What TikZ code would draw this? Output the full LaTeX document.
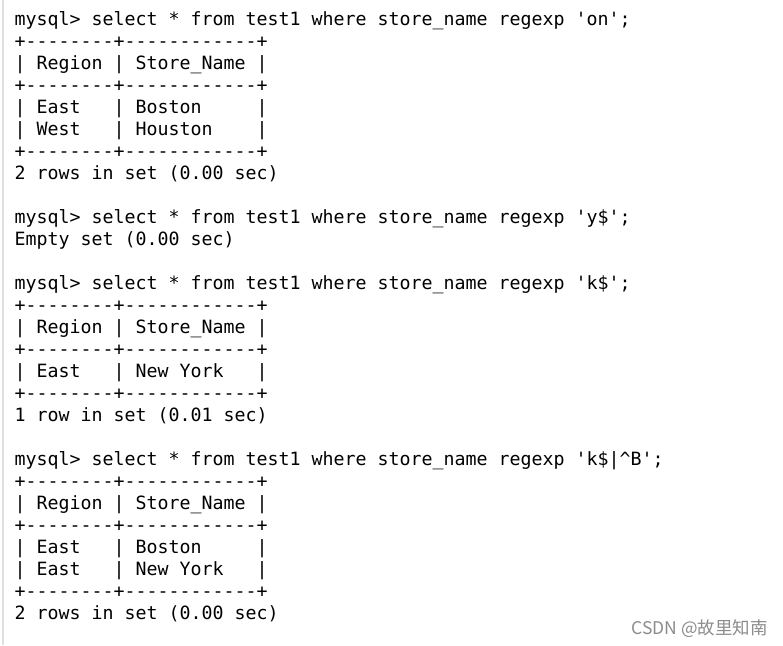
\documentclass[tikz,border=0pt]{standalone}
\usepackage{fontspec}
\setmonofont{DejaVu Sans Mono}
\newfontfamily\cjkfont{Noto Sans CJK SC}
\begin{document}
\begin{tikzpicture}[x=1pt,y=-1pt,
  term/.style={anchor=base west,inner sep=0pt,font=\ttfamily\fontsize{18.27}{22}\selectfont,text=black},
  wmark/.style={anchor=base east,inner sep=0pt,font=\cjkfont\fontsize{17.5}{20}\selectfont,text=black!45}]
\useasboundingbox[fill=white] (0,0) rectangle (783,645);
\fill[black!12] (2,0) rectangle (4,645);
\newcommand{\tl}[2]{\node[term] (l#1) at (14.5,{25+22*(#1-1)}) {#2};}
\tl{1}{mysql> select * from test1 where store\_name regexp 'on';}
\tl{2}{+--------+------------+}
\tl{3}{|~Region~|~Store\_Name~|}
\tl{4}{+--------+------------+}
\tl{5}{|~East~~~|~Boston~~~~~|}
\tl{6}{|~West~~~|~Houston~~~~|}
\tl{7}{+--------+------------+}
\tl{8}{2 rows in set (0.00 sec)}
\tl{10}{mysql> select * from test1 where store\_name regexp 'y\$';}
\tl{11}{Empty set (0.00 sec)}
\tl{13}{mysql> select * from test1 where store\_name regexp 'k\$';}
\tl{14}{+--------+------------+}
\tl{15}{|~Region~|~Store\_Name~|}
\tl{16}{+--------+------------+}
\tl{17}{|~East~~~|~New~York~~~|}
\tl{18}{+--------+------------+}
\tl{19}{1 row in set (0.01 sec)}
\tl{21}{mysql> select * from test1 where store\_name regexp 'k\$|\textasciicircum B';}
\tl{22}{+--------+------------+}
\tl{23}{|~Region~|~Store\_Name~|}
\tl{24}{+--------+------------+}
\tl{25}{|~East~~~|~Boston~~~~~|}
\tl{26}{|~East~~~|~New~York~~~|}
\tl{27}{+--------+------------+}
\tl{28}{2 rows in set (0.00 sec)}
\node[wmark] (wm) at (768,634) {CSDN @故里知南};
\end{tikzpicture}
\end{document}
